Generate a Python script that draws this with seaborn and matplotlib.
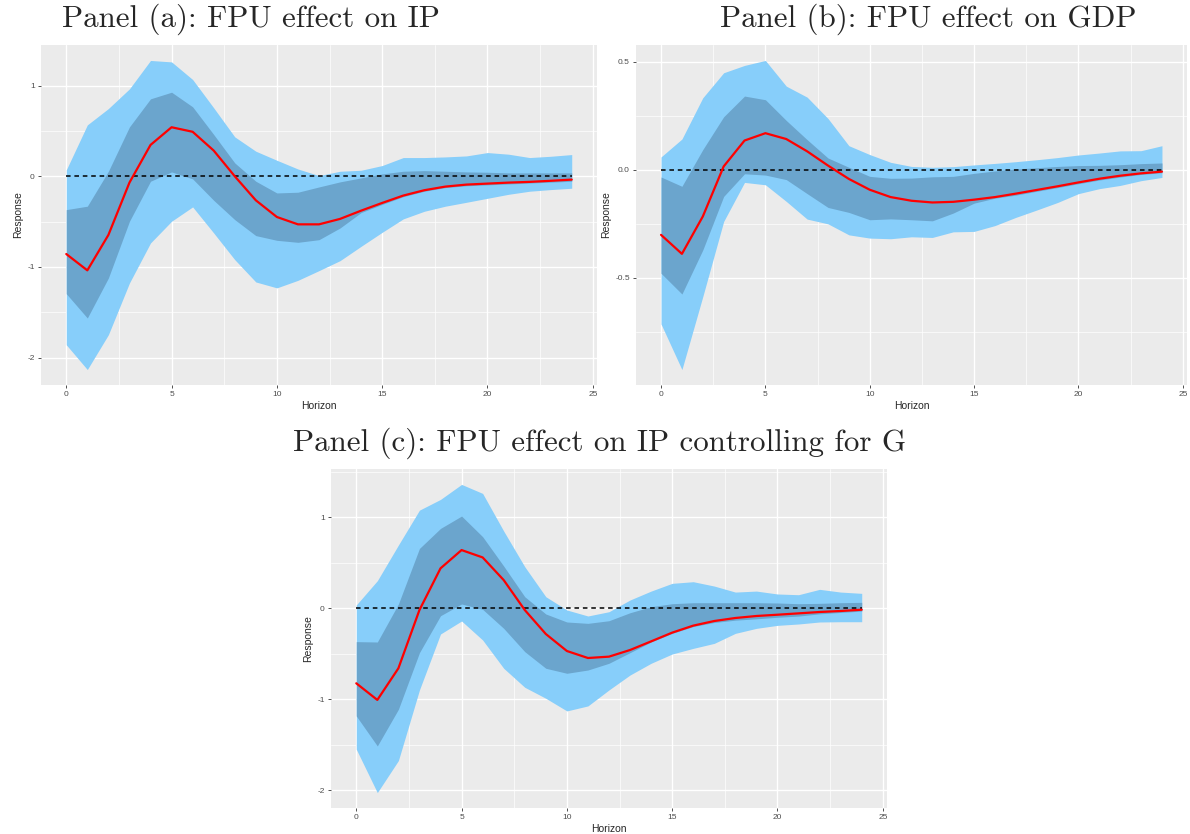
"""Impulse responses of IP and GDP to an FPU shock, three panels in ggplot style."""
import matplotlib
matplotlib.use("Agg")
import matplotlib.pyplot as plt
import numpy as np
import pandas as pd
import seaborn as sns

HORIZON = list(range(25))

# Panel (a): FPU effect on IP
IP_MEAN = [-0.857, -1.037, -0.647, -0.07, 0.345, 0.54, 0.49, 0.283, 0.0, -0.265, -0.449, -0.53, -0.53,
           -0.47, -0.379, -0.294, -0.213, -0.154, -0.114, -0.092, -0.081, -0.07, -0.062, -0.05, -0.037]
IP_OUT_HI = [0.07, 0.566, 0.746, 0.963, 1.276, 1.26, 1.066, 0.754, 0.434, 0.276, 0.176, 0.08, 0.007,
             0.055, 0.066, 0.118, 0.206, 0.206, 0.213, 0.224, 0.261, 0.243, 0.206, 0.22, 0.239]
IP_OUT_LO = [-1.857, -2.13, -1.746, -1.176, -0.735, -0.496, -0.338, -0.625, -0.919, -1.165, -1.23, -1.147,
             -1.04, -0.93, -0.772, -0.618, -0.47, -0.386, -0.33, -0.287, -0.243, -0.199, -0.165, -0.147, -0.132]
IP_IN_HI = [-0.368, -0.33, 0.055, 0.544, 0.853, 0.926, 0.765, 0.46, 0.147, -0.055, -0.184, -0.176, -0.118,
            -0.062, -0.018, 0.026, 0.055, 0.062, 0.055, 0.048, 0.044, 0.037, 0.037, 0.037, 0.037]
IP_IN_LO = [-1.294, -1.562, -1.121, -0.496, -0.055, 0.048, -0.029, -0.265, -0.478, -0.654, -0.706, -0.728,
            -0.699, -0.57, -0.40, -0.31, -0.225, -0.165, -0.125, -0.105, -0.095, -0.085, -0.075, -0.065, -0.055]

# Panel (b): FPU effect on GDP
GDP_MEAN = [-0.302, -0.39, -0.217, 0.015, 0.135, 0.169, 0.142, 0.085, 0.019, -0.043, -0.093, -0.127, -0.144,
            -0.152, -0.149, -0.139, -0.127, -0.111, -0.094, -0.077, -0.059, -0.042, -0.028, -0.017, -0.009]
GDP_OUT_HI = [0.059, 0.142, 0.333, 0.449, 0.483, 0.506, 0.387, 0.336, 0.237, 0.111, 0.07, 0.034, 0.015,
              0.011, 0.014, 0.022, 0.029, 0.037, 0.046, 0.056, 0.068, 0.077, 0.087, 0.088, 0.111]
GDP_OUT_LO = [-0.715, -0.926, -0.588, -0.24, -0.059, -0.07, -0.147, -0.229, -0.251, -0.302, -0.317, -0.32,
              -0.311, -0.314, -0.288, -0.286, -0.259, -0.221, -0.187, -0.152, -0.111, -0.088, -0.073, -0.051, -0.036]
GDP_IN_HI = [-0.034, -0.077, 0.093, 0.245, 0.341, 0.324, 0.228, 0.139, 0.054, 0.011, -0.031, -0.04, -0.039,
             -0.033, -0.031, -0.017, -0.006, 0.003, 0.009, 0.015, 0.019, 0.02, 0.023, 0.028, 0.031]
GDP_IN_LO = [-0.48, -0.576, -0.372, -0.124, -0.019, -0.025, -0.046, -0.111, -0.175, -0.198, -0.232, -0.228,
             -0.232, -0.237, -0.201, -0.155, -0.132, -0.118, -0.10, -0.083, -0.065, -0.048, -0.034, -0.022, -0.014]

# Panel (c): FPU effect on IP controlling for G
IPG_MEAN = [-0.824, -1.007, -0.659, -0.018, 0.44, 0.641, 0.56, 0.311, -0.018, -0.282, -0.469, -0.546, -0.531,
            -0.458, -0.363, -0.267, -0.19, -0.139, -0.106, -0.084, -0.07, -0.055, -0.04, -0.029, -0.015]
IPG_OUT_HI = [0.037, 0.304, 0.696, 1.08, 1.198, 1.363, 1.264, 0.85, 0.458, 0.128, -0.018, -0.084, -0.037,
              0.092, 0.19, 0.275, 0.293, 0.245, 0.179, 0.19, 0.158, 0.15, 0.209, 0.179, 0.165]
IPG_OUT_LO = [-1.549, -2.026, -1.674, -0.897, -0.282, -0.139, -0.348, -0.659, -0.868, -0.989, -1.128, -1.073,
              -0.897, -0.733, -0.604, -0.502, -0.44, -0.385, -0.275, -0.22, -0.187, -0.172, -0.15, -0.147, -0.147]
IPG_IN_HI = [-0.366, -0.37, 0.048, 0.659, 0.879, 1.015, 0.788, 0.465, 0.128, -0.062, -0.15, -0.165, -0.136,
             -0.048, 0.018, 0.051, 0.062, 0.062, 0.062, 0.062, 0.059, 0.051, 0.055, 0.062, 0.066]
IPG_IN_LO = [-1.183, -1.513, -1.11, -0.487, -0.081, 0.048, -0.011, -0.22, -0.476, -0.659, -0.714, -0.678,
             -0.604, -0.487, -0.37, -0.275, -0.2, -0.155, -0.13, -0.115, -0.098, -0.085, -0.06, -0.045, -0.03]

TITLES = ["Panel (a): FPU effect on IP", "Panel (b): FPU effect on GDP",
          "Panel (c): FPU effect on IP controlling for G"]
Y_TICKS = [[-2, -1, 0, 1], [-0.5, 0.0, 0.5], [-2, -1, 0, 1]]
Y_LABELS = [["-2", "-1", "0", "1"], ["-0.5", "0.0", "0.5"], ["-2", "-1", "0", "1"]]
X_TICKS = [0, 5, 10, 15, 20, 25]

LIGHT = "#87CEFA"
DARK = "#6BA5CD"

sns.set_theme(style="darkgrid")
plt.rcParams["font.family"] = ["Liberation Sans", "DejaVu Sans"]
plt.rcParams["axes.unicode_minus"] = False


def draw_panel(ax, mean, out_lo, out_hi, in_lo, in_hi, yticks, ylabels):
    df = pd.DataFrame({"Horizon": HORIZON, "Response": mean, "Zero": [0.0] * len(HORIZON)})
    ax.set_facecolor("#EBEBEB")
    ax.fill_between(HORIZON, out_lo, out_hi, color=LIGHT, lw=0, zorder=2)
    ax.fill_between(HORIZON, in_lo, in_hi, color=DARK, lw=0, zorder=3)
    sns.lineplot(data=df, x="Horizon", y="Zero", color="black", lw=1.1, ax=ax, zorder=4,
                 linestyle=(0, (3, 2.5)))
    sns.lineplot(data=df, x="Horizon", y="Response", color="red", lw=1.6, ax=ax, zorder=5)

    lo, hi = min(out_lo), max(out_hi)
    pad = 0.05 * (hi - lo)
    ax.set_xticks(X_TICKS)
    ax.set_xticks([2.5, 7.5, 12.5, 17.5, 22.5], minor=True)
    ax.set_yticks(yticks)
    ax.set_yticklabels(ylabels)
    step = yticks[1] - yticks[0]
    ax.set_yticks([t + step / 2 for t in yticks[:-1]] + [yticks[0] - step / 2, yticks[-1] + step / 2],
                  minor=True)
    ax.set_xlim(-1.2, 25.2)
    ax.set_ylim(lo - pad, hi + pad)
    ax.grid(which="major", color="white", lw=1.0, zorder=0)
    ax.grid(which="minor", color="white", lw=0.5, zorder=0)
    ax.set_axisbelow(True)
    for s in ax.spines.values():
        s.set_visible(False)
    ax.tick_params(axis="both", which="major", length=2.5, width=0.6, color="#333333",
                   labelsize=6, labelcolor="#4D4D4D", pad=2, bottom=True, left=True)
    ax.tick_params(axis="both", which="minor", length=0)
    ax.set_xlabel("Horizon", fontsize=7.5, labelpad=2)
    ax.set_ylabel("Response", fontsize=7.5, labelpad=3)


fig = plt.figure(figsize=(11.9, 8.34), dpi=100)
W, H = 1190, 834
boxes = [(41, 45, 597, 385), (636, 45, 1187, 385), (331, 469, 887, 808)]
series = [
    (IP_MEAN, IP_OUT_LO, IP_OUT_HI, IP_IN_LO, IP_IN_HI),
    (GDP_MEAN, GDP_OUT_LO, GDP_OUT_HI, GDP_IN_LO, GDP_IN_HI),
    (IPG_MEAN, IPG_OUT_LO, IPG_OUT_HI, IPG_IN_LO, IPG_IN_HI),
]
for i, (x0, y0, x1, y1) in enumerate(boxes):
    ax = fig.add_axes([x0 / W, 1 - y1 / H, (x1 - x0) / W, (y1 - y0) / H])
    draw_panel(ax, *series[i], Y_TICKS[i], Y_LABELS[i])

title_pos = [(251, 19), (928, 19), (600, 443)]
for t, (cx, cy) in zip(TITLES, title_pos):
    fig.text(cx / W, 1 - cy / H, t, ha="center", va="center", fontsize=22.3, family="cmr10")

fig.savefig("out.png", dpi=100)
